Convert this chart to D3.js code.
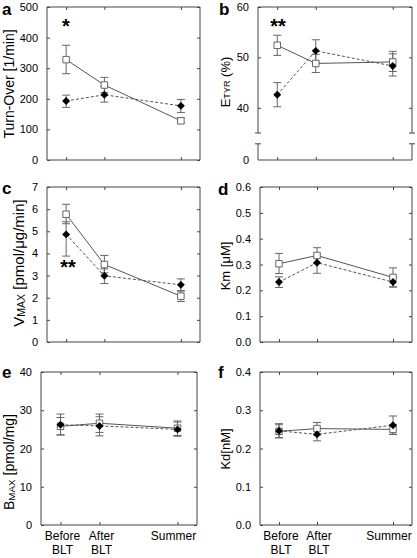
<!DOCTYPE html>
<html><head><meta charset="utf-8">
<script src="https://cdn.jsdelivr.net/npm/d3@7"></script>
<style>html,body{margin:0;padding:0;background:#fff;} text{font-family:Arial,"Liberation Sans",sans-serif;}</style>
</head><body><svg id="chart" width="417" height="558"></svg>
<script>
// ---- data ----
const categories = ["Before BLT", "After BLT", "Summer"];
const catPos = [1, 2, 4];

const turnSq = [328, 245, 128], turnSqLo = [282, 220, 120], turnSqHi = [375, 270, 138];
const turnDi = [193, 213, 177], turnDiLo = [172, 189, 155], turnDiHi = [212, 240, 198];
const turnTicks = [0, 100, 200, 300, 400, 500];

const etyrSq = [52.4, 48.8, 49.1], etyrSqLo = [50.4, 47.0, 47.2], etyrSqHi = [54.4, 50.6, 51.2];
const etyrDi = [42.6, 51.3, 48.3], etyrDiLo = [40.2, 49.1, 46.3], etyrDiHi = [45.0, 53.5, 50.7];
const etyrTicks = [40, 50, 60];

const vmaxSq = [5.77, 3.5, 2.07], vmaxSqLo = [5.34, 3.12, 1.83], vmaxSqHi = [6.22, 3.91, 2.3];
const vmaxDi = [4.86, 2.99, 2.58], vmaxDiLo = [3.88, 2.64, 2.32], vmaxDiHi = [5.43, 3.3, 2.85];
const vmaxTicks = [0, 1, 2, 3, 4, 5, 6, 7];

const kmSq = [0.303, 0.335, 0.25], kmSqLo = [0.265, 0.305, 0.213], kmSqHi = [0.343, 0.365, 0.287];
const kmDi = [0.232, 0.307, 0.232], kmDiLo = [0.211, 0.266, 0.213], kmDiHi = [0.252, 0.33, 0.25];
const kmTicks = [0, 0.1, 0.2, 0.3, 0.4, 0.5, 0.6];

const bmaxSq = [25.8, 26.6, 25.3], bmaxSqLo = [23.5, 24.2, 23.4], bmaxSqHi = [28.1, 29.0, 27.2];
const bmaxDi = [26.2, 25.9, 25.0], bmaxDiLo = [23.6, 23.3, 23.2], bmaxDiHi = [29.0, 28.3, 26.9];
const bmaxTicks = [0, 10, 20, 30, 40];

const kdSq = [0.245, 0.252, 0.25], kdSqLo = [0.228, 0.235, 0.237], kdSqHi = [0.262, 0.268, 0.262];
const kdDi = [0.246, 0.237, 0.261], kdDiLo = [0.228, 0.22, 0.237], kdDiHi = [0.265, 0.254, 0.285];
const kdTicks = [0, 0.1, 0.2, 0.3, 0.4];

// ---- drawing ----
const svg = d3.select("#chart");
const AX = "#444", LN = "#555", EB = "#666";

function drawPanel(p) {
  const g = svg.append("g");
  const x = d3.scaleLinear().domain([0.5, 4.5]).range([p.left, p.right]);
  let y;
  if (p.broken) {
    y = d3.scaleLinear().domain([0, 35, 60]).range([p.bottom, p.bottom - 27, p.top]);
  } else {
    y = d3.scaleLinear().domain([0, d3.max(p.ticks)]).range([p.bottom, p.top]);
  }
  const fmt = p.fmt || (d => d);
  const la = g.append("g").attr("transform", `translate(${p.left},0)`)
    .call(d3.axisLeft(y).tickValues(p.ticks).tickSize(-3).tickPadding(9).tickFormat(fmt));
  const ra = g.append("g").attr("transform", `translate(${p.right},0)`)
    .call(d3.axisRight(y).tickValues(p.ticks).tickSize(-3).tickFormat(""));
  const ta = g.append("g").attr("transform", `translate(0,${p.top})`)
    .call(d3.axisTop(x).tickValues(catPos).tickSize(-3).tickFormat(""));
  const ba = g.append("g").attr("transform", `translate(0,${p.bottom})`)
    .call(d3.axisBottom(x).tickValues(catPos).tickSize(-3).tickFormat(""));
  [la, ra, ta, ba].forEach(a => {
    a.select(".domain").remove();
    a.selectAll(".tick line").attr("stroke", AX);
    a.selectAll("text").attr("fill", "#000").style("font-size", "11px");
  });
  // box
  const box = g.append("g").attr("stroke", AX).attr("stroke-width", 1).attr("fill", "none");
  box.append("line").attr("x1", p.left).attr("x2", p.right).attr("y1", p.top).attr("y2", p.top);
  box.append("line").attr("x1", p.left).attr("x2", p.right).attr("y1", p.bottom).attr("y2", p.bottom);
  if (p.broken) {
    const b1 = y(35), b2 = y(21);
    [p.left, p.right].forEach(xx => {
      box.append("line").attr("x1", xx).attr("x2", xx).attr("y1", p.top).attr("y2", b1);
      box.append("line").attr("x1", xx).attr("x2", xx).attr("y1", b2).attr("y2", p.bottom);
      box.append("line").attr("x1", xx - 3).attr("x2", xx + 3).attr("y1", b1).attr("y2", b1);
      box.append("line").attr("x1", xx - 3).attr("x2", xx + 3).attr("y1", b2).attr("y2", b2);
    });
    g.append("text").attr("x", p.left - 9).attr("y", y(0)).attr("dy", "0.32em")
      .attr("text-anchor", "end").style("font-size", "11px").text("0");
  } else {
    box.append("line").attr("x1", p.left).attr("x2", p.left).attr("y1", p.top).attr("y2", p.bottom);
    box.append("line").attr("x1", p.right).attr("x2", p.right).attr("y1", p.top).attr("y2", p.bottom);
  }
  // x labels
  if (p.xlabels) {
    categories.forEach((c, i) => {
      const parts = c === "Summer" ? ["Summer"] : c.split(" ");
      const lx = x(catPos[i]) + (c === "Summer" ? -4 : 2);
      const t = g.append("text").attr("text-anchor", "middle").style("font-size", "12px")
        .attr("x", lx).attr("y", p.bottom + 15);
      parts.forEach((s, k) => t.append("tspan").attr("x", lx).attr("dy", k ? 14 : 0).text(s));
    });
  }
  // error bars
  const series = [
    {v: p.sq, lo: p.sqLo, hi: p.sqHi},
    {v: p.di, lo: p.diLo, hi: p.diHi}
  ];
  series.forEach(s => {
    s.v.forEach((v, i) => {
      const cx = x(catPos[i]);
      g.append("line").attr("x1", cx).attr("x2", cx).attr("y1", y(s.lo[i])).attr("y2", y(s.hi[i])).attr("stroke", EB);
      [s.lo[i], s.hi[i]].forEach(e => g.append("line").attr("x1", cx - 4).attr("x2", cx + 4)
        .attr("y1", y(e)).attr("y2", y(e)).attr("stroke", EB));
    });
  });
  const line = d3.line().x((d, i) => x(catPos[i])).y(d => y(d));
  g.append("path").datum(p.di).attr("d", line).attr("fill", "none").attr("stroke", LN)
    .attr("stroke-dasharray", "3,2");
  g.append("path").datum(p.sq).attr("d", line).attr("fill", "none").attr("stroke", LN);
  g.selectAll(null).data(p.sq).enter().append("path")
    .attr("d", d3.symbol(d3.symbolSquare, 42))
    .attr("transform", (d, i) => `translate(${x(catPos[i])},${y(d)})`)
    .attr("fill", "#fff").attr("stroke", "#666");
  g.selectAll(null).data(p.di).enter().append("path")
    .attr("d", d3.symbol(d3.symbolDiamond2, 40))
    .attr("transform", (d, i) => `translate(${x(catPos[i])},${y(d)})`)
    .attr("fill", "#000");
  // panel letter
  g.append("text").attr("x", p.lx).attr("y", p.ly).style("font-size", "17px").style("font-weight", "bold").text(p.letter);
  // y title
  const tt = g.append("text").attr("transform", `translate(${p.tx},${p.ty}) rotate(-90)`)
    .attr("text-anchor", "middle").attr("dominant-baseline", "central").style("font-size", p.tsize + "px");
  p.title.forEach(seg => {
    const ts = tt.append("tspan").text(seg.t);
    if (seg.sub) ts.attr("baseline-shift", "-25%").style("font-size", (p.tsize * 0.7) + "px");
  });
  if (p.star) g.append("text").attr("x", p.star.x).attr("y", p.star.y).attr("text-anchor", "middle")
    .style("font-size", "20px").style("font-weight", "bold").text(p.star.t);
}

drawPanel({left: 47, right: 200, top: 7, bottom: 160, ticks: turnTicks,
  sq: turnSq, sqLo: turnSqLo, sqHi: turnSqHi, di: turnDi, diLo: turnDiLo, diHi: turnDiHi,
  letter: "a", lx: 2, ly: 15, tx: 9, ty: 84, tsize: 14, title: [{t: "Turn-Over [1/min]"}],
  star: {x: 66, y: 33, t: "*"}});
drawPanel({left: 258, right: 412, top: 7, bottom: 160, ticks: etyrTicks, broken: true,
  sq: etyrSq, sqLo: etyrSqLo, sqHi: etyrSqHi, di: etyrDi, diLo: etyrDiLo, diHi: etyrDiHi,
  letter: "b", lx: 219, ly: 15, tx: 225, ty: 82, tsize: 13, title: [{t: "E"}, {t: "TYR", sub: true}, {t: " (%)"}],
  star: {x: 278, y: 33, t: "**"}});
drawPanel({left: 47, right: 200, top: 187, bottom: 342, ticks: vmaxTicks,
  sq: vmaxSq, sqLo: vmaxSqLo, sqHi: vmaxSqHi, di: vmaxDi, diLo: vmaxDiLo, diHi: vmaxDiHi,
  letter: "c", lx: 2, ly: 194, tx: 18, ty: 263, tsize: 15, title: [{t: "V"}, {t: "MAX", sub: true}, {t: " [pmol/μg/min]"}],
  star: {x: 68, y: 274, t: "**"}});
drawPanel({left: 260, right: 412, top: 187, bottom: 342, ticks: kmTicks, fmt: d3.format(".1f"),
  sq: kmSq, sqLo: kmSqLo, sqHi: kmSqHi, di: kmDi, diLo: kmDiLo, diHi: kmDiHi,
  letter: "d", lx: 218, ly: 195, tx: 225, ty: 266, tsize: 13, title: [{t: "Km [μM]"}]});
drawPanel({left: 41, right: 197, top: 372, bottom: 525, ticks: bmaxTicks, xlabels: true,
  sq: bmaxSq, sqLo: bmaxSqLo, sqHi: bmaxSqHi, di: bmaxDi, diLo: bmaxDiLo, diHi: bmaxDiHi,
  letter: "e", lx: 2, ly: 378, tx: 9, ty: 462, tsize: 14, title: [{t: "B"}, {t: "MAX", sub: true}, {t: " [pmol/mg]"}]});
drawPanel({left: 260, right: 412, top: 372, bottom: 525, ticks: kdTicks, fmt: d3.format(".1f"), xlabels: true,
  sq: kdSq, sqLo: kdSqLo, sqHi: kdSqHi, di: kdDi, diLo: kdDiLo, diHi: kdDiHi,
  letter: "f", lx: 218, ly: 378, tx: 225, ty: 449, tsize: 13, title: [{t: "Kd[nM]"}]});
</script></body></html>
